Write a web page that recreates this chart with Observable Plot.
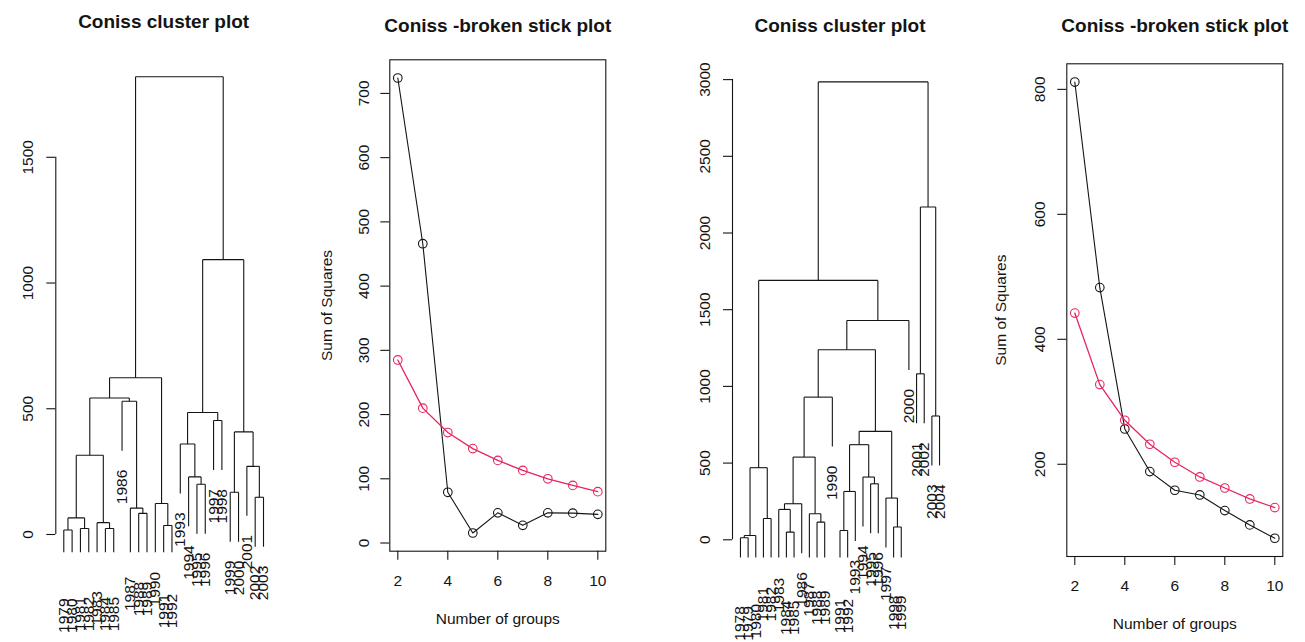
<!DOCTYPE html>
<html>
<head>
<meta charset="utf-8">
<script src="https://cdn.jsdelivr.net/npm/d3@7"></script>
<script src="https://cdn.jsdelivr.net/npm/@observablehq/plot@0.6"></script>
<style>
  body { margin: 0; background: #fff; }
  #chart { position: relative; width: 1305px; height: 642px; }
  #chart svg { position: absolute; left: 0; top: 0; }
</style>
</head>
<body>
<div id="chart"></div>
<script>
// ---- Core A: 1979–2003 ----
const yearsA = d3.range(1979, 2004).map(String);
// CONISS merge steps, hclust style: [left, right, height]; negative = sample, positive = earlier step
const mergeA = [
  [-1, -2, 18], [-3, -4, 24], [1, 2, 66], [-6, -7, 24], [-5, 4, 47], [3, 5, 315],
  [-10, -11, 84], [-9, 7, 105], [-8, 8, 530], [6, 9, 543],
  [-13, -14, 36], [-12, 11, 123], [10, 12, 623],
  [-17, -18, 200], [-16, 14, 229], [-15, 15, 360], [-19, -20, 453], [16, 17, 485],
  [-21, -22, 168], [-24, -25, 148], [-23, 20, 271], [19, 21, 408],
  [18, 22, 1093], [13, 23, 1820]
];
const ticksA = [0, 500, 1000, 1500];

// ---- Core B: 1978–2004 ----
const yearsB = d3.range(1978, 2005).map(String);
const mergeB = [
  [-1, -2, 13], [1, -3, 28], [-4, -5, 139], [2, 3, 470],
  [-7, -8, 50], [-6, 5, 198], [6, -9, 235], [-11, -12, 115], [-10, 8, 170], [7, 9, 539], [10, -13, 930],
  [-14, -15, 61], [12, -16, 315], [-18, -19, 365], [-17, 14, 409], [13, 15, 620],
  [-21, -22, 83], [-20, 17, 272], [16, 18, 707], [11, 19, 1239], [20, -23, 1430], [4, 21, 1691],
  [-24, -25, 1082], [-26, -27, 807], [23, 24, 2170], [22, 25, 2985]
];
const ticksB = [0, 500, 1000, 1500, 2000, 2500, 3000];

// ---- Broken stick comparisons ----
const groups = [2, 3, 4, 5, 6, 7, 8, 9, 10];
const groupTicks = [2, 4, 6, 8, 10];
const dispersionA = [724, 466, 79, 15.6, 47, 27.5, 47, 46.5, 44.6];
const bstickA = [285, 210, 172, 147, 128.6, 113, 100, 89.7, 80];
const ssTicksA = [0, 100, 200, 300, 400, 500, 600, 700];
const dispersionB = [811.7, 482.7, 256.5, 188.3, 158.4, 150.9, 125.9, 102.9, 81.6];
const bstickB = [442, 327.5, 270.4, 232, 203.2, 179.7, 162, 144.5, 130.7];
const ssTicksB = [200, 400, 600, 800];

const W = 1305, H = 642;
const INK = "#141414";
const RED = "#e8245c";
const FONT = '"Liberation Sans", Arial, Helvetica, sans-serif';
const FS = 15.5;
const svgStyle = {background: "transparent", fontFamily: FONT, fontSize: FS + "px", overflow: "visible"};

// Turn a merge list into bracket segments (node x = midpoint of its children) and hanging leaf labels
function dendroLayout(years, merges, hangFrac) {
  const top = d3.max(merges, m => m[2]);
  const hang = hangFrac * top;
  const nodes = [], segs = [], leaves = [];
  const child = (c, h) => {
    if (c < 0) {
      const leaf = {x: -c - 1, y: h - hang, label: years[-c - 1]};
      leaves.push(leaf);
      return leaf;
    }
    return nodes[c - 1];
  };
  for (const [l, r, h] of merges) {
    const a = child(l, h), b = child(r, h);
    segs.push(
      {x1: a.x, y1: a.y, x2: a.x, y2: h},
      {x1: a.x, y1: h, x2: b.x, y2: h},
      {x1: b.x, y1: h, x2: b.x, y2: b.y}
    );
    nodes.push({x: (a.x + b.x) / 2, y: h});
  }
  return {top, segs, leaves};
}

function dendroPanel({years, merges, ticks, frame, tickDx, titleDy}) {
  const [left, right, topPx, bottomPx] = frame;
  const {top, segs, leaves} = dendroLayout(years, merges, 0.108);
  const n = years.length - 1;
  const xDomain = [-0.04 * n, 1.04 * n];
  return Plot.plot({
    width: W, height: H,
    marginLeft: left, marginRight: W - right, marginTop: topPx, marginBottom: H - bottomPx,
    style: svgStyle,
    x: {domain: xDomain, axis: null},
    y: {domain: [-0.04 * top, 1.04 * top], axis: null},
    marks: [
      Plot.link(segs, {x1: "x1", y1: "y1", x2: "x2", y2: "y2", stroke: INK, strokeWidth: 1.1, clip: true}),
      Plot.text(leaves, {x: "x", y: "y", text: "label", rotate: -90, textAnchor: "end", lineAnchor: "middle", dy: 19, fill: INK}),
      Plot.ruleX([xDomain[0]], {y1: ticks[0], y2: ticks[ticks.length - 1], stroke: INK, strokeWidth: 1.1}),
      Plot.axisY(ticks, {tickSize: 9, tickFormat: () => "", label: null, stroke: INK, strokeWidth: 1.1}),
      Plot.text(ticks, {y: d => d, text: d => String(d), frameAnchor: "left", rotate: -90, textAnchor: "middle", lineAnchor: "middle", dx: tickDx, fill: INK}),
      Plot.text(["Coniss cluster plot"], {text: d => d, frameAnchor: "top", lineAnchor: "middle", dy: titleDy, fontWeight: "bold", fontSize: 19, fill: INK})
    ]
  });
}

function stickPanel({ss, bstick, yTicks, frame, tickDx, labelDx, titleDy}) {
  const [left, right, topPx, bottomPx] = frame;
  const lo = d3.min([...ss, ...bstick]), hi = d3.max([...ss, ...bstick]);
  const pad = 0.04 * (hi - lo);
  const gx = 0.04 * (groups[groups.length - 1] - groups[0]);
  const pts = (vals) => groups.map((g, i) => ({g, v: vals[i]}));
  return Plot.plot({
    width: W, height: H,
    marginLeft: left, marginRight: W - right, marginTop: topPx, marginBottom: H - bottomPx,
    style: svgStyle,
    x: {domain: [groups[0] - gx, groups[groups.length - 1] + gx], axis: null},
    y: {domain: [lo - pad, hi + pad], axis: null},
    marks: [
      Plot.frame({stroke: INK, strokeWidth: 1.1}),
      Plot.line(pts(ss), {x: "g", y: "v", stroke: INK, strokeWidth: 1.1}),
      Plot.dot(pts(ss), {x: "g", y: "v", r: 4.3, stroke: INK, fill: "none", strokeWidth: 1.1}),
      Plot.line(pts(bstick), {x: "g", y: "v", stroke: RED, strokeWidth: 1.3}),
      Plot.dot(pts(bstick), {x: "g", y: "v", r: 4.3, stroke: RED, fill: "none", strokeWidth: 1.1}),
      Plot.axisX(groupTicks, {tickSize: 9, tickFormat: () => "", label: null, stroke: INK, strokeWidth: 1.1}),
      Plot.text(groupTicks, {x: d => d, text: d => String(d), frameAnchor: "bottom", lineAnchor: "middle", dy: 30, fill: INK}),
      Plot.axisY(yTicks, {tickSize: 9, tickFormat: () => "", label: null, stroke: INK, strokeWidth: 1.1}),
      Plot.text(yTicks, {y: d => d, text: d => String(d), frameAnchor: "left", rotate: -90, textAnchor: "middle", lineAnchor: "middle", dx: tickDx, fill: INK}),
      Plot.text(["Number of groups"], {text: d => d, frameAnchor: "bottom", lineAnchor: "middle", dy: 68, fill: INK}),
      Plot.text(["Sum of Squares"], {text: d => d, frameAnchor: "left", rotate: -90, textAnchor: "middle", lineAnchor: "middle", dx: labelDx, fill: INK}),
      Plot.text(["Coniss -broken stick plot"], {text: d => d, frameAnchor: "top", lineAnchor: "middle", dy: titleDy, fontWeight: "bold", fontSize: 19, fill: INK})
    ]
  });
}

const chart = document.getElementById("chart");
chart.append(
  dendroPanel({years: yearsA, merges: mergeA, ticks: ticksA, frame: [55.3, 271, 58, 552.3], tickDx: -28, titleDy: -37}),
  stickPanel({ss: dispersionA, bstick: bstickA, yTicks: ssTicksA, frame: [389.3, 605.3, 59.3, 550.7], tickDx: -26, labelDx: -63, titleDy: -34}),
  dendroPanel({years: yearsB, merges: mergeB, ticks: ticksB, frame: [732, 947, 63.1, 557.6], tickDx: -27, titleDy: -38}),
  stickPanel({ss: dispersionB, bstick: bstickB, yTicks: ssTicksB, frame: [1066.3, 1282.3, 63.3, 556], tickDx: -27, labelDx: -66, titleDy: -38})
);
</script>
</body>
</html>
